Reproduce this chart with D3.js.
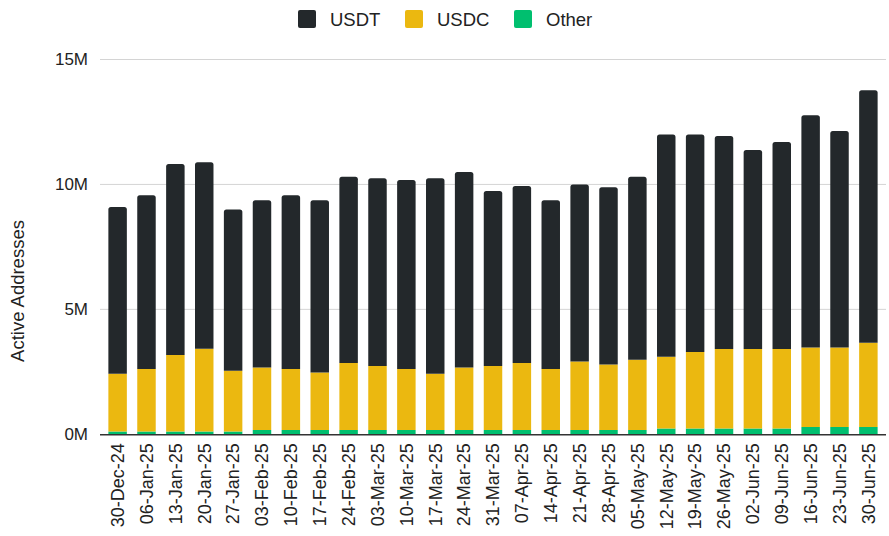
<!DOCTYPE html>
<html>
<head>
<meta charset="utf-8">
<script src="https://cdn.jsdelivr.net/npm/d3@7"></script>
<style>
  body { margin: 0; background: #fff; }
  text { font-family: "Liberation Sans", Arial, sans-serif; fill: #222; }
</style>
</head>
<body>
<div id="chart"></div>
<script>
// weekly active addresses, millions
const weeks = ["30-Dec-24", "06-Jan-25", "13-Jan-25", "20-Jan-25", "27-Jan-25", "03-Feb-25", "10-Feb-25",
    "17-Feb-25", "24-Feb-25", "03-Mar-25", "10-Mar-25", "17-Mar-25", "24-Mar-25", "31-Mar-25", "07-Apr-25",
    "14-Apr-25", "21-Apr-25", "28-Apr-25", "05-May-25", "12-May-25", "19-May-25", "26-May-25", "02-Jun-25",
    "09-Jun-25", "16-Jun-25", "23-Jun-25", "30-Jun-25"];

const usdt = [6.68, 6.96, 7.65, 7.47, 6.46, 6.70, 6.96, 6.90, 7.46, 7.52, 7.57, 7.83, 7.83, 7.01, 7.09,
    6.76, 7.09, 7.10, 7.33, 8.90, 8.71, 8.53, 7.97, 8.29, 9.30, 8.67, 10.11];

const usdc = [2.31, 2.50, 3.06, 3.31, 2.43, 2.50, 2.44, 2.30, 2.68, 2.56, 2.44, 2.25, 2.50, 2.56, 2.68,
    2.44, 2.74, 2.62, 2.81, 2.87, 3.06, 3.18, 3.18, 3.18, 3.18, 3.18, 3.37];

const other = [0.11, 0.11, 0.11, 0.11, 0.11, 0.17, 0.17, 0.17, 0.17, 0.17, 0.17, 0.17, 0.17, 0.17, 0.17,
    0.17, 0.17, 0.17, 0.17, 0.23, 0.23, 0.23, 0.23, 0.23, 0.29, 0.29, 0.29];

const yTicks = [0, 5, 10, 15];

const keys = ["other", "usdc", "usdt"];
const labels = { usdt: "USDT", usdc: "USDC", other: "Other" };
const colors = { usdt: "#23282b", usdc: "#ebb810", other: "#00bf6f" };

let width = 889, height = 536;

let svg = d3.select("#chart").append("svg")
    .attr("width", width)
    .attr("height", height);

let rows = weeks.map((w, i) => ({ week: w, usdt: usdt[i], usdc: usdc[i], other: other[i] }));

// scales
let x = d3.scaleBand()
    .domain(weeks)
    .range([100, 886])
    .paddingInner(0.36)
    .paddingOuter(0.29);

let y = d3.scaleLinear()
    .domain([0, 15])
    .range([434.3, 59.5]);

// gridlines
svg.append("g")
    .selectAll("line")
    .data(yTicks.slice(1))
    .enter()
    .append("line")
    .attr("x1", 100)
    .attr("x2", 886)
    .attr("y1", d => y(d))
    .attr("y2", d => y(d))
    .attr("stroke", "#d4d4d4")
    .attr("stroke-width", 1);

// y axis labels
let yAxis = d3.axisLeft(y)
    .tickValues(yTicks)
    .tickFormat(d => d + "M")
    .tickSize(0)
    .tickPadding(12);

let yG = svg.append("g")
    .attr("transform", "translate(100,0)")
    .call(yAxis);
yG.select(".domain").remove();
yG.selectAll("text")
    .style("font-size", "17px")
    .style("font-family", "Liberation Sans, Arial, sans-serif")
    .attr("fill", "#222");

// axis title
svg.append("text")
    .attr("transform", "translate(24,291) rotate(-90)")
    .attr("text-anchor", "middle")
    .style("font-size", "18.5px")
    .text("Active Addresses");

// stacked bars
let stack = d3.stack().keys(keys);
let stacked = stack(rows);

function topRounded(x0, y0, w, h, r) {
    r = Math.min(r, h);
    return "M" + x0 + "," + (y0 + h) +
        "V" + (y0 + r) +
        "Q" + x0 + "," + y0 + " " + (x0 + r) + "," + y0 +
        "H" + (x0 + w - r) +
        "Q" + (x0 + w) + "," + y0 + " " + (x0 + w) + "," + (y0 + r) +
        "V" + (y0 + h) + "Z";
}

let groups = svg.append("g")
    .selectAll("g")
    .data(stacked)
    .enter()
    .append("g")
    .attr("fill", d => colors[d.key]);

groups.selectAll("path")
    .data(d => d.map(v => Object.assign(v, { key: d.key })))
    .enter()
    .append("path")
    .attr("d", d => {
        let x0 = x(d.data.week), w = x.bandwidth();
        let y0 = y(d[1]), h = y(d[0]) - y(d[1]);
        return topRounded(x0, y0, w, h, d.key === "usdt" ? 2.5 : 0);
    });

// x axis
let xAxis = d3.axisBottom(x).tickSize(0).tickPadding(9);
let xG = svg.append("g")
    .attr("transform", "translate(0," + y(0) + ")")
    .call(xAxis);
xG.select(".domain")
    .attr("d", "M100,0.5H886")
    .attr("stroke", "#333")
    .attr("stroke-width", 1.5);
xG.selectAll("text")
    .style("font-size", "18px")
    .style("font-family", "Liberation Sans, Arial, sans-serif")
    .attr("fill", "#222")
    .attr("text-anchor", "end")
    .attr("transform", "rotate(-90)")
    .attr("x", -9)
    .attr("y", 0)
    .attr("dy", "0.35em");

// legend
let legendItems = [
    { key: "usdt", x: 298 },
    { key: "usdc", x: 405 },
    { key: "other", x: 514 }
];
let legend = svg.append("g")
    .selectAll("g")
    .data(legendItems)
    .enter()
    .append("g")
    .attr("transform", d => "translate(" + d.x + ",10)");
legend.append("rect")
    .attr("width", 18)
    .attr("height", 18)
    .attr("rx", 2)
    .attr("fill", d => colors[d.key]);
legend.append("text")
    .attr("x", 32)
    .attr("y", 16)
    .style("font-size", "18.5px")
    .text(d => labels[d.key]);
</script>
</body>
</html>
